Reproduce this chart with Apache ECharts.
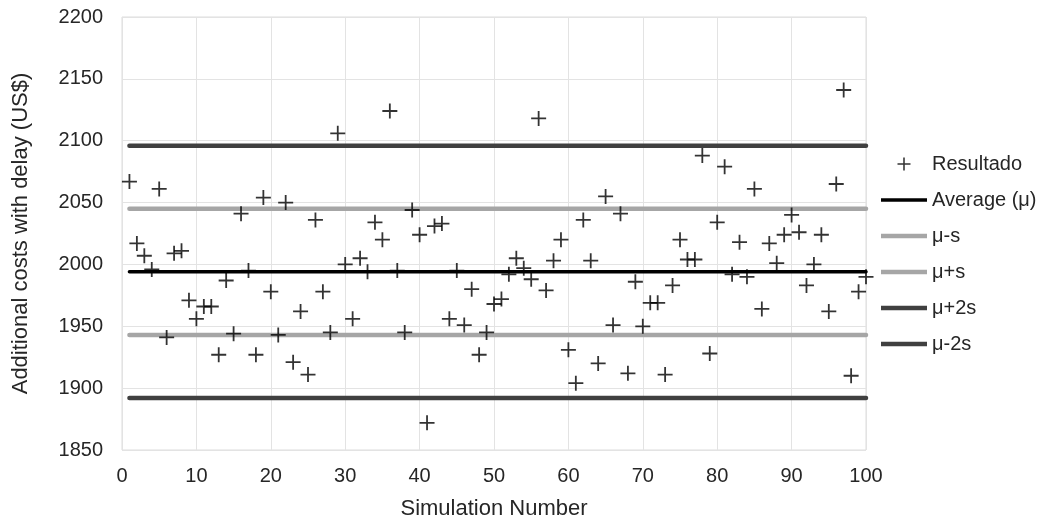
<!DOCTYPE html>
<html>
<head>
<meta charset="utf-8">
<script src="https://cdn.jsdelivr.net/npm/echarts@6/dist/echarts.min.js"></script>
<style>
  html, body { margin: 0; padding: 0; background: #fff; }
  #chart { width: 1044px; height: 521px; }
</style>
</head>
<body>
<div id="chart"></div>
<script>
// simulation number (x) and additional cost (y)
const simulations = [];
for (let i = 1; i <= 100; i++) simulations.push(i);
const costs = [
  2067, 2017, 2007, 1996, 2061, 1941, 2009, 2011, 1971, 1956,
  1966, 1966, 1927, 1987, 1944, 2041, 1995, 1927, 2054, 1978,
  1943, 2050, 1921, 1962, 1911, 2036, 1978, 1945, 2106, 2000,
  1956, 2005, 1994, 2034, 2020, 2124, 1995, 1945, 2044, 2024,
  1872, 2031, 2033, 1956, 1995, 1951, 1980, 1927, 1945, 1968,
  1972, 1992, 2005, 1997, 1988, 2118, 1979, 2003, 2020, 1931,
  1904, 2036, 2003, 1920, 2055, 1951, 2041, 1912, 1986, 1950,
  1969, 1969, 1911, 1983, 2020, 2004, 2004, 2088, 1928, 2034,
  2079, 1992, 2018, 1990, 2061, 1964, 2017, 2001, 2024, 2040,
  2026, 1983, 2000, 2024, 1962, 2065, 2141, 1910, 1978, 1990
];

// horizontal reference lines
const lineNames = ['Average (μ)', 'μ-s', 'μ+s', 'μ+2s', 'μ-2s'];
const lineValues = [1994, 1943, 2045, 2096, 1892];
const lineColors = ['#000000', '#a6a6a6', '#a6a6a6', '#404040', '#404040'];
const lineWidths = [3.5, 4.5, 4.5, 4.5, 4.5];
const lineStart = 1, lineEnd = 100;

const xTicks = { min: 0, max: 100, interval: 10 };
const yTicks = { min: 1850, max: 2200, interval: 50 };

const font = "'Liberation Sans', Arial, sans-serif";
const crossPath = 'path://M0,6.6H15V8.4H0Z M6.6,0H8.4V15H6.6Z';

const chart = echarts.init(document.getElementById('chart'));

const series = [];
const legendData = [{ name: 'Resultado', icon: crossPath }];
lineNames.forEach(function (name, i) {
  series.push({
    name: name,
    type: 'line',
    data: [[lineStart, lineValues[i]], [lineEnd, lineValues[i]]],
    symbol: 'none',
    lineStyle: { color: lineColors[i], width: lineWidths[i], cap: 'round' },
    itemStyle: { color: lineColors[i] },
    silent: true,
    z: 2
  });
  // flat bar icon in the legend, as thick as the line
  legendData.push({ name: name, icon: 'path://M0,0H46V' + lineWidths[i] + 'H0Z' });
});
series.unshift({
  name: 'Resultado',
  type: 'scatter',
  data: simulations.map(function (s, i) { return [s, costs[i]]; }),
  symbol: crossPath,
  symbolSize: 15,
  itemStyle: { color: '#000' },
  z: 5
});

chart.setOption({
  animation: false,
  grid: {
    left: 122, right: 178, top: 17, bottom: 71,
    outerBoundsMode: 'none',
    show: true, borderColor: '#dcdcdc', borderWidth: 1
  },
  legend: {
    orient: 'vertical',
    left: 876, top: 149,
    itemWidth: 46, itemHeight: 13, itemGap: 16,
    textStyle: { fontFamily: font, fontSize: 20, color: '#262626' },
    data: legendData
  },
  xAxis: {
    type: 'value',
    min: xTicks.min, max: xTicks.max, interval: xTicks.interval,
    name: 'Simulation Number',
    nameLocation: 'middle', nameGap: 48,
    nameTextStyle: { fontFamily: font, fontSize: 22, color: '#262626' },
    axisLine: { show: false },
    axisTick: { show: false },
    axisLabel: { fontFamily: font, fontSize: 20, color: '#262626', margin: 16 },
    splitLine: { show: true, lineStyle: { color: '#e3e3e3', width: 1 } }
  },
  yAxis: {
    type: 'value',
    min: yTicks.min, max: yTicks.max, interval: yTicks.interval,
    name: 'Additional costs with delay (US$)',
    nameLocation: 'middle', nameGap: 90,
    nameTextStyle: { fontFamily: font, fontSize: 22, color: '#262626' },
    axisLine: { show: false },
    axisTick: { show: false },
    axisLabel: {
      fontFamily: font, fontSize: 20, color: '#262626', margin: 19,
      formatter: function (v) { return String(v); }
    },
    splitLine: { show: true, lineStyle: { color: '#e3e3e3', width: 1 } }
  },
  series: series
});
</script>
</body>
</html>
